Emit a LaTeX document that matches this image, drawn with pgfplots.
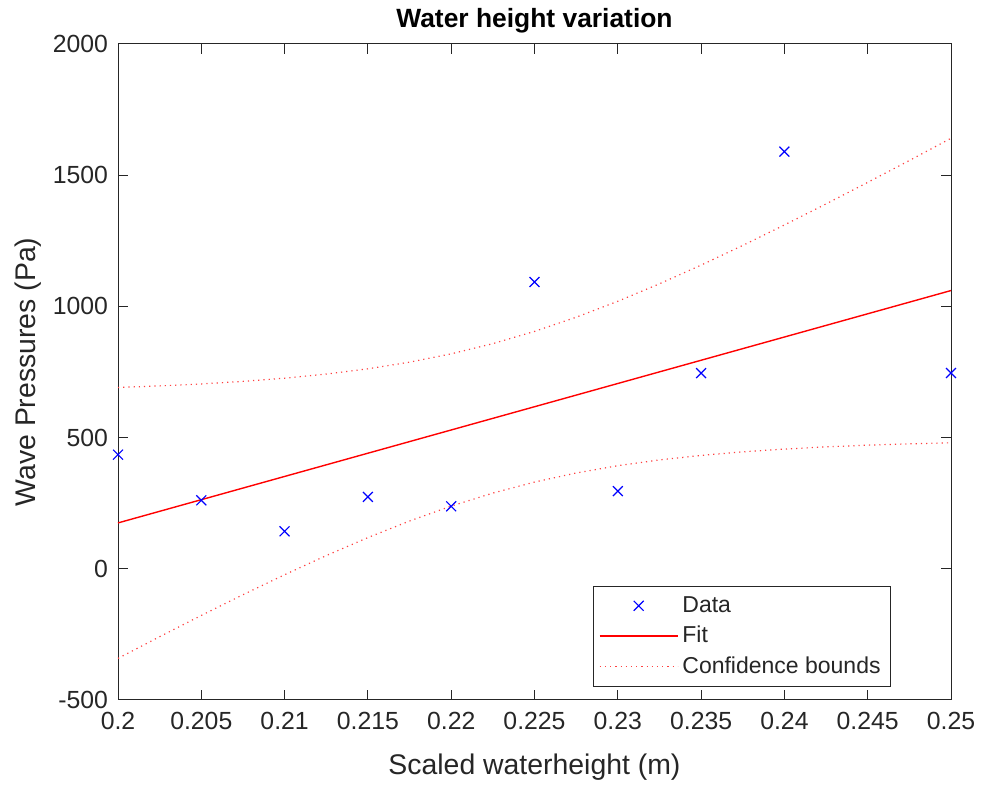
\documentclass[border=0pt]{standalone}
\usepackage{pgfplots}
\pgfplotsset{compat=1.18}
\usepackage{fontspec}
\setmainfont{Liberation Sans}
\definecolor{axgray}{rgb}{0.15,0.15,0.15}
\definecolor{bndred}{rgb}{1,0.25,0.25}
\begin{document}
\begin{tikzpicture}
\begin{axis}[
  scale only axis, width=416.5pt, height=328pt,
  xmin=0.2, xmax=0.25, ymin=-500, ymax=2000,
  xtick={0.2,0.205,0.21,0.215,0.22,0.225,0.23,0.235,0.24,0.245,0.25},
  xticklabels={0.2,0.205,0.21,0.215,0.22,0.225,0.23,0.235,0.24,0.245,0.25},
  ytick={-500,0,500,1000,1500,2000},
  yticklabels={-500,0,500,1000,1500,2000},
  xtick pos=both, ytick pos=both, tick align=inside,
  major tick length=5pt,
  axis line style={axgray, line width=0.5pt},
  every tick/.style={axgray, line width=0.5pt},
  tick label style={font=\fontsize{12.4}{14}\selectfont, text=axgray},
  xticklabel style={yshift=-2.5pt},
  yticklabel style={xshift=-1.5pt},
  label style={font=\fontsize{14.2}{16}\selectfont, text=axgray},
  xlabel style={yshift=-5.5pt},
  ylabel style={yshift=-1pt},
  title style={font=\bfseries\fontsize{13.2}{16}\selectfont, yshift=-4pt},
  title={Water height variation},
  xlabel={Scaled waterheight (m)},
  ylabel={Wave Pressures (Pa)},
  legend style={at={(0.928,0.0198)}, anchor=south east, draw=axgray,
    font=\fontsize{11.5}{14}\selectfont, text=axgray, row sep=1.5pt,
    inner xsep=3pt, inner ysep=3pt},
  legend cell align=left,
  legend image code/.code={\draw[mark repeat=2,mark phase=2,#1] plot coordinates {(0pt,0pt) (19.5pt,0pt) (39pt,0pt)};},
  clip=false,
]
\addplot[only marks, mark=x, mark size=3.5pt, color=blue, line width=0.6pt] coordinates {
 (0.200,435) (0.205,261) (0.210,143) (0.215,274) (0.220,238)
 (0.225,1093) (0.230,296) (0.235,746) (0.240,1590) (0.250,746)
};
\addlegendentry{Data}
\addplot[red, line width=0.7pt, mark=none] coordinates {
 (0.200,174.8) (0.250,1060.4)
};
\addlegendentry{Fit}
\addplot[bndred, dotted, line width=0.6pt, mark=none] coordinates {
 (0.2000,691.0) (0.2025,697.0) (0.2050,704.5) (0.2075,714.2) (0.2100,726.4)
 (0.2125,742.1) (0.2150,762.1) (0.2175,787.5) (0.2200,819.2) (0.2225,858.1)
 (0.2250,904.7) (0.2275,958.7) (0.2300,1019.5) (0.2325,1086.1) (0.2350,1157.3)
 (0.2375,1232.3) (0.2400,1310.3) (0.2425,1390.6) (0.2450,1472.6) (0.2475,1556.0)
 (0.2500,1640.6)
};
\addlegendentry{Confidence bounds}
\addplot[bndred, dotted, line width=0.6pt, mark=none, forget plot] coordinates {
 (0.2000,-341.4) (0.2025,-258.8) (0.2050,-177.7) (0.2075,-98.8) (0.2100,-22.6)
 (0.2125,50.3) (0.2150,118.9) (0.2175,182.1) (0.2200,239.0) (0.2225,288.5)
 (0.2250,330.5) (0.2275,365.1) (0.2300,392.9) (0.2325,414.9) (0.2350,432.1)
 (0.2375,445.7) (0.2400,456.3) (0.2425,464.6) (0.2450,471.2) (0.2475,476.2)
 (0.2500,480.2)
};
\end{axis}
\pgfresetboundingbox
\path[use as bounding box] (current axis.south west)++(-59pt,-42pt) rectangle ([xshift=15pt,yshift=22pt]current axis.north east);
\end{tikzpicture}
\end{document}
